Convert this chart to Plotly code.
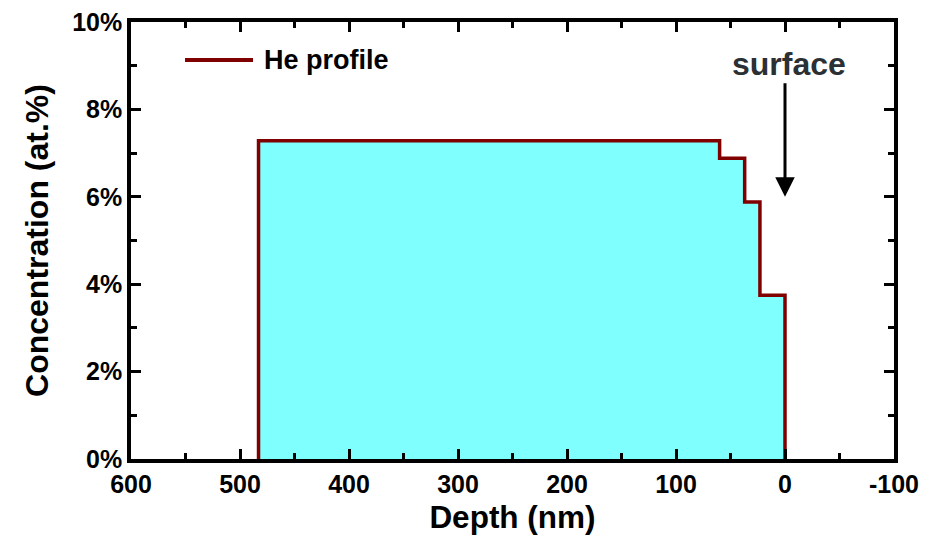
import plotly.graph_objects as go

# Step profile of He concentration
depth = [483, 483, 60, 37, 23, 0]
conc = [0, 7.28, 6.88, 5.88, 3.75, 0]

x_ticks = [600, 500, 400, 300, 200, 100, 0, -100]
y_ticks = [0, 2, 4, 6, 8, 10]
series_name = "He profile"

FONT = "Liberation Sans, Arial, sans-serif"

fig = go.Figure()
fig.add_trace(go.Scatter(
    x=depth, y=conc, mode="lines", line_shape="hv",
    line=dict(color="#800000", width=3.5),
    fill="tozeroy", fillcolor="#80FFFF",
    name=series_name, showlegend=False,
))

axis_common = dict(
    showgrid=False, zeroline=False, showline=True, linecolor="black", linewidth=3.5,
    mirror="allticks", ticks="inside", ticklen=10, tickwidth=3, tickcolor="black",
    tickfont=dict(family=FONT, size=25, color="black"),
)

fig.update_xaxes(
    range=[600, -100], tickvals=x_ticks, ticktext=[f"<b>{v}</b>" for v in x_ticks],
    title=dict(text="<b>Depth (nm)</b>", font=dict(family=FONT, size=31.5, color="black"), standoff=10),
    minor=dict(ticks="inside", dtick=50, ticklen=6, tickwidth=3, tickcolor="black"),
    **axis_common,
)
fig.update_yaxes(
    range=[0, 10], tickvals=y_ticks, ticktext=[f"<b>{v}%</b>" for v in y_ticks],
    title=dict(text="<b>Concentration (at.%)</b>", font=dict(family=FONT, size=32, color="black"), standoff=15),
    minor=dict(ticks="inside", dtick=1, ticklen=6, tickwidth=3, tickcolor="black"),
    **axis_common,
)

# surface arrow + label
fig.add_annotation(
    x=0, y=6.0, ax=0, ay=8.63, xref="x", yref="y", axref="x", ayref="y",
    showarrow=True, arrowhead=2, arrowsize=1.3, arrowwidth=3, arrowcolor="black", text="",
)
fig.add_annotation(
    x=-3.5, y=9.04, xref="x", yref="y", text="<b>surface</b>", showarrow=False,
    font=dict(family=FONT, size=32, color="#2b3035"),
)

# legend entry drawn in the top-left corner
fig.add_shape(type="line", xref="paper", yref="paper", x0=0.0708, x1=0.1599, y0=0.913, y1=0.913,
              line=dict(color="#800000", width=4))
fig.add_annotation(x=0.1717, y=0.913, xref="paper", yref="paper", xanchor="left", yanchor="middle",
                   text=f"<b>{series_name}</b>", showarrow=False,
                   font=dict(family=FONT, size=27, color="black"))

fig.update_layout(
    width=929, height=542,
    margin=dict(l=131, r=35, t=22, b=83, autoexpand=False),
    paper_bgcolor="white", plot_bgcolor="white",
    showlegend=False,
)

fig.write_html("out.html", config={"displayModeBar": False},
               post_script="document.body.style.margin='0px';")
